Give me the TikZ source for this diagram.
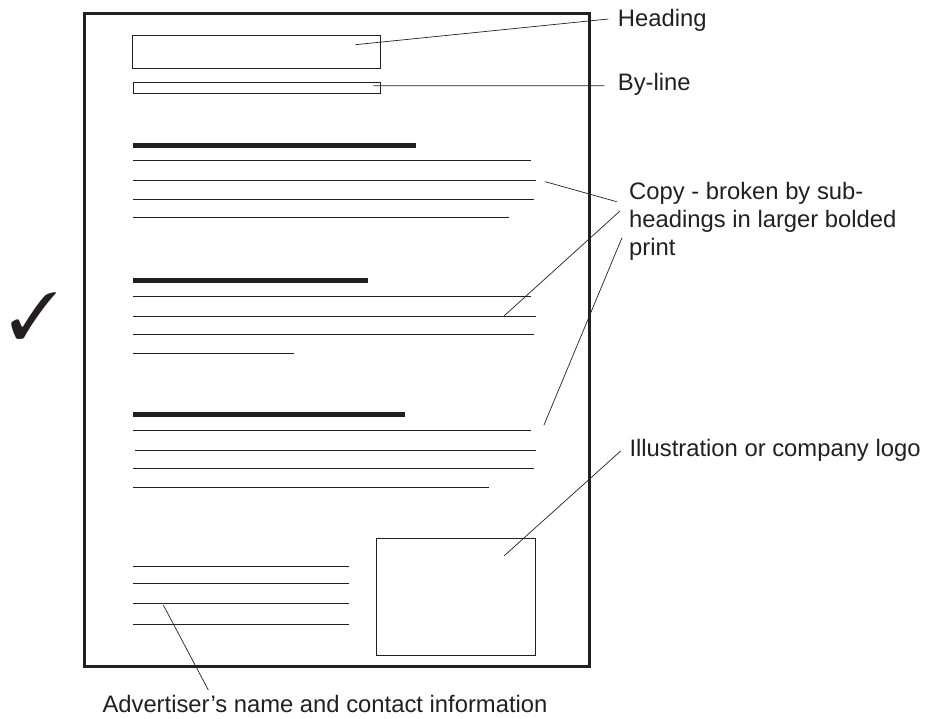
\documentclass[tikz,border=0pt]{standalone}
\usepackage{fontspec}
\setmainfont{Liberation Sans}
\usepackage{pifont}
\usepackage{xcolor}
\definecolor{ink}{HTML}{231F20}

\begin{document}
\begin{tikzpicture}[x=1pt,y=-1pt,color=ink,line cap=butt,
	pageedge/.style={line width=3pt},
	boxline/.style={line width=1pt},
	headbar/.style={line width=5pt},
	copyline/.style={line width=1pt},
	leader/.style={line width=0.7pt},
	note/.style={font=\fontsize{23.8}{28}\selectfont,inner sep=0pt}]
	\useasboundingbox (0,0) rectangle (935,718);
	\draw[pageedge] (84.5,13.5) rectangle (589.5,666.5);
	\draw[boxline] (132.5,35) rectangle (380.5,68);
	\draw[boxline] (133,82.5) rectangle (380.5,93.5);
	\draw[boxline] (376,538) rectangle (535.5,655);
	
	\draw[headbar] (133,145) -- (416,145);
	\draw[headbar] (133,280.7) -- (368,280.7);
	\draw[headbar] (133,414.7) -- (405,414.7);
	\foreach \y/\s/\e in {160.3/133/531,180.3/133/536,199/133/534,217.7/133/509,
		296/133/531,316/133/536,334.3/133/534,353.3/133/294,
		430.3/133/531,450/135/536,468.7/133/534,487.7/133/489,
		566/133/349,583.7/133/349,603.7/133/349,624/133/349}
		\draw[copyline] (\s,\y) -- (\e,\y);
	
	\node (tick) at (34,316) {\fontsize{65}{65}\selectfont\ding{51}};
	\node[note,anchor=base west] (heading) at (617.7,26.7) {Heading};
	\node[note,anchor=base west] (byline) at (617.7,90.7) {By-line};
	\node[note,anchor=north west,align=left] (copy) at (629,181.8) {Copy - broken by sub-\\headings in larger bolded\\print};
	\node[note,anchor=base west] (logo) at (629.3,456) {Illustration or company logo};
	\node[note,anchor=base west] (advert) at (102.3,712) {Advertiser’s name and contact information};
	
	\coordinate (hd-a) at (355.3,44.7);   \coordinate (hd-b) at (608.3,19);
	\coordinate (by-a) at (373.3,85.7);   \coordinate (by-b) at (604.3,85.7);
	\coordinate (cp1-a) at (545.3,181.7); \coordinate (cp1-b) at (616.7,201.7);
	\coordinate (cp2-a) at (504.3,315.7); \coordinate (cp2-b) at (620,211);
	\coordinate (cp3-a) at (544,425);     \coordinate (cp3-b) at (622,237.7);
	\coordinate (lg-a) at (504.3,555.7);  \coordinate (lg-b) at (620.7,451);
	\coordinate (ad-a) at (163.3,605);    \coordinate (ad-b) at (208.3,690);
	\draw[leader] (hd-a) -- (hd-b) (by-a) -- (by-b)
		(cp1-a) -- (cp1-b) (cp2-a) -- (cp2-b) (cp3-a) -- (cp3-b)
		(lg-a) -- (lg-b) (ad-a) -- (ad-b);
\end{tikzpicture}
\end{document}
